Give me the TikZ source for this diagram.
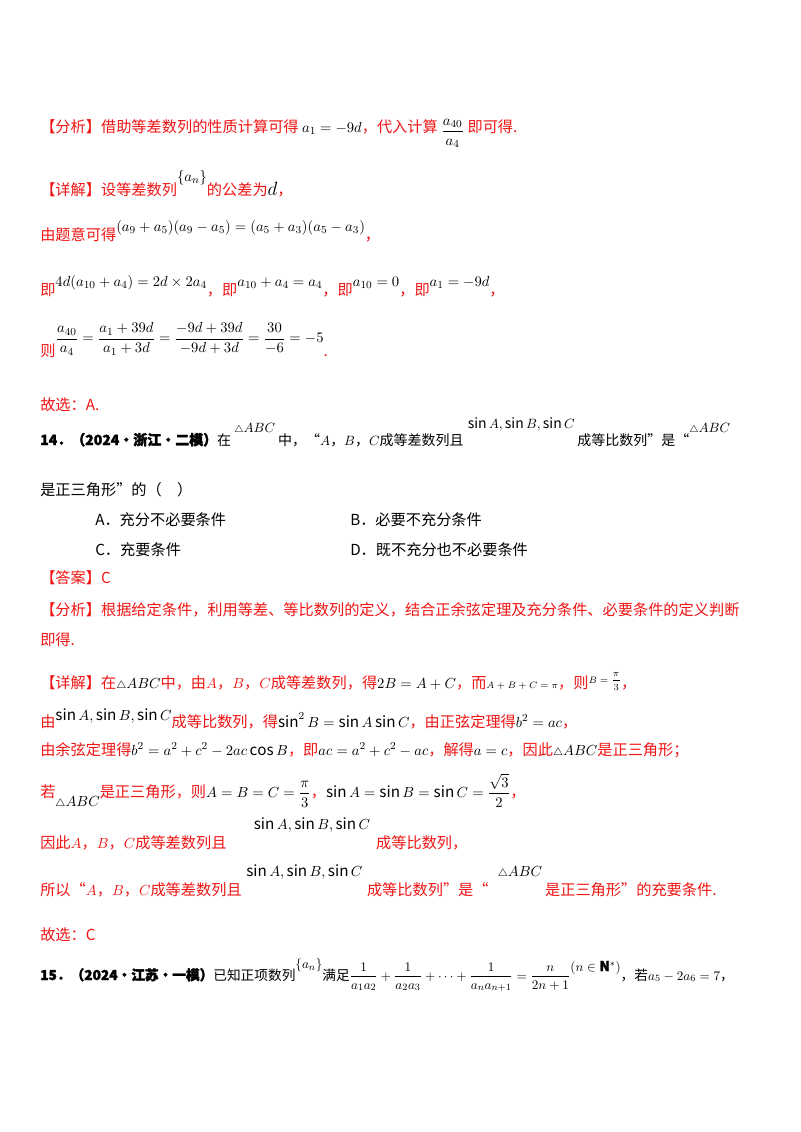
\documentclass[tikz,border=0pt]{standalone}
\usepackage{amsmath,amssymb}
\usepackage{fontspec}
\setmainfont{Noto Sans CJK SC}[BoldFeatures={FakeBold=2}]
\definecolor{rd}{RGB}{240,20,20}
\newcommand{\tri}{{\scriptstyle\triangle}ABC}
\newcommand{\up}[1]{\raisebox{1.6ex}{#1}}
\newcommand{\ABC}{$A$，$B$，$C$}
\begin{document}
\begin{tikzpicture}[x=0.75pt,y=-0.75pt,every node/.style={anchor=base west,inner sep=0pt,font=\fontsize{11.4}{13}\selectfont},
 r/.style={text=rd}]
\useasboundingbox (0,0) rectangle (800,1132);
\node[r] (l1) at (40,132) {【分析】借助等差数列的性质计算可得 \textcolor{black}{$a_1=-9d$}，代入计算 \textcolor{black}{$\raisebox{-0.4ex}{$\dfrac{a_{40}}{a_4}$}$} 即可得.};
\node[r] (l2) at (40,195) {【详解】设等差数列\textcolor{black}{\up{$\{a_n\}$}}的公差为\textcolor{black}{\Large$d$}，};
\node[r] (l3) at (40,240) {由题意可得\textcolor{black}{\raisebox{1ex}{$(a_9+a_5)(a_9-a_5)=(a_5+a_3)(a_5-a_3)$}}，};
\node[r] (l4) at (40,295) {即\textcolor{black}{\raisebox{1ex}{$4d(a_{10}+a_4)=2d\times 2a_4$}}，即\textcolor{black}{\raisebox{1ex}{$a_{10}+a_4=a_4$}}，即\textcolor{black}{\raisebox{1ex}{$a_{10}=0$}}，即\textcolor{black}{\raisebox{1ex}{$a_1=-9d$}}，};
\node[r] (l5) at (40,356) {则\textcolor{black}{\raisebox{1.6ex}{$\dfrac{a_{40}}{a_4}=\dfrac{a_1+39d}{a_1+3d}=\dfrac{-9d+39d}{-9d+3d}=\dfrac{30}{-6}=-5$}}.};
\node[r] (l6) at (40,410) {故选：A.};
\node (l7) at (40,445) {\scalebox{0.92}{\textbf{14．（2024·浙江·二模）}在\ \up{$\tri$}\ 中，“\ABC 成等差数列且\hspace{0.3em}\raisebox{2.2ex}{$\sin A,\sin B,\sin C$}\hspace{0.2em}成等比数列”是“\up{$\tri$}}};
\node (l8) at (40,495) {是正三角形”的（\quad）};
\node (a) at (95,525) {A．充分不必要条件};
\node (b) at (350,525) {B．必要不充分条件};
\node (c) at (95,555) {C．充要条件};
\node (d) at (350,555) {D．既不充分也不必要条件};
\node[r] (l9) at (40,583) {【答案】C};
\node[r] (l10) at (40,615) {【分析】根据给定条件，利用等差、等比数列的定义，结合正余弦定理及充分条件、必要条件的定义判断};
\node[r] (l11) at (40,645) {即得.};
\node[r] (l12) at (40,688) {【详解】在\textcolor{black}{$\tri$}中，由\ABC 成等差数列，得\textcolor{black}{$2B=A+C$}，而\textcolor{black}{\scriptsize$A+B+C=\pi$}，则\textcolor{black}{\raisebox{0.6ex}{\scriptsize$B=\dfrac{\pi}{3}$}}，};
\node[r] (l13) at (40,727) {由\textcolor{black}{\raisebox{0.8ex}{$\sin A,\sin B,\sin C$}}成等比数列，得\textcolor{black}{$\sin^2 B=\sin A\sin C$}，由正弦定理得\textcolor{black}{$b^2=ac$}，};
\node[r] (l14) at (40,755) {由余弦定理得\textcolor{black}{$b^2=a^2+c^2-2ac\cos B$}，即\textcolor{black}{$ac=a^2+c^2-ac$}，解得\textcolor{black}{$a=c$}，因此\textcolor{black}{$\tri$}是正三角形；};
\node[r] (l15) at (40,797) {若\textcolor{black}{\raisebox{-1.2ex}{$\tri$}}是正三角形，则\textcolor{black}{$A=B=C=\dfrac{\pi}{3}$}，\textcolor{black}{$\sin A=\sin B=\sin C=\dfrac{\sqrt3}{2}$}，};
\node[r] (l16) at (40,848) {因此\ABC 成等差数列且\hspace{1.8em}\textcolor{black}{\raisebox{2.2ex}{$\sin A,\sin B,\sin C$}}\hspace{0.4em}成等比数列，};
\node[r] (l17) at (40,895) {所以“\ABC 成等差数列且\hspace{0.3em}\textcolor{black}{\raisebox{2.2ex}{$\sin A,\sin B,\sin C$}}\hspace{0.3em}成等比数列”是“\hspace{0.6em}\textcolor{black}{\raisebox{2.2ex}{$\tri$}}\hspace{0.2em}是正三角形”的充要条件.};
\node[r] (l18) at (40,940) {故选：C};
\node (l19) at (40,980) {\scalebox{0.9}{\textbf{15．（2024·江苏·一模）}已知正项数列\up{$\{a_n\}$}满足$\dfrac{1}{a_1a_2}+\dfrac{1}{a_2a_3}+\cdots+\dfrac{1}{a_na_{n+1}}=\dfrac{n}{2n+1}\raisebox{1.2ex}{$\left(n\in\mathbf{N}^*\right)$}$，若$a_5-2a_6=7$，}};
\end{tikzpicture}
\end{document}
